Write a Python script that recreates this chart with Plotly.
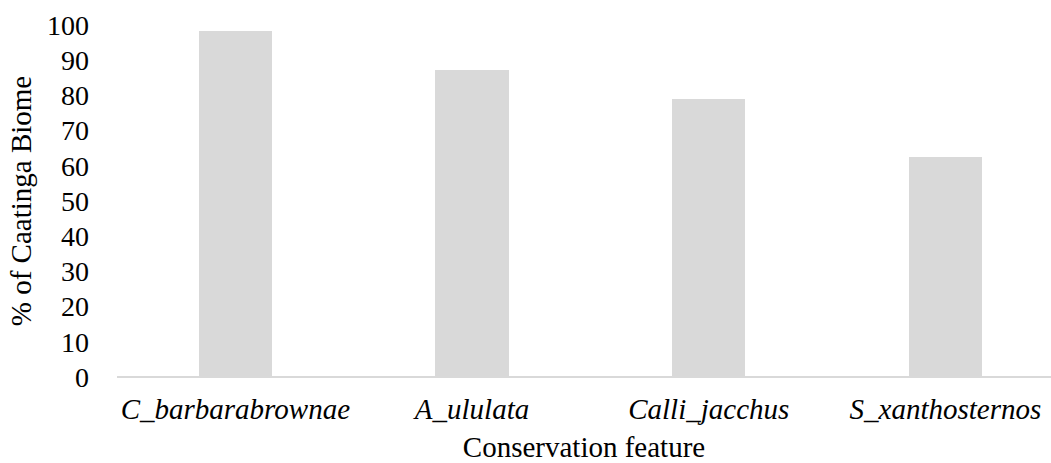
import plotly.graph_objects as go

categories = ["C_barbarabrownae", "A_ululata", "Calli_jacchus", "S_xanthosternos"]
values = [98.3, 87.2, 79.0, 62.4]
y_ticks = list(range(0, 101, 10))

FF = "Liberation Serif"
x_font = dict(family=FF, size=29, color="#000000")
y_font = dict(family=FF, size=28, color="#000000")

fig = go.Figure()
fig.add_trace(go.Bar(
    x=list(range(len(categories))),
    y=values,
    width=0.31,
    marker=dict(color="#d9d9d9", line=dict(width=0)),
))

fig.update_layout(
    width=1051, height=463,
    margin=dict(l=117, r=0, t=25, b=86, autoexpand=False),
    plot_bgcolor="white", paper_bgcolor="white",
    font=dict(family=FF, size=29, color="#000000"),
    showlegend=False,
    bargap=0,
)
fig.update_xaxes(
    range=[-0.5, 3.446],
    tickmode="array",
    tickvals=list(range(len(categories))),
    ticktext=[f"<i>{c}</i>" for c in categories],
    tickfont=x_font,
    showgrid=False, zeroline=False,
    showline=False,
    ticks="",
    ticklabelstandoff=12,
    automargin=False,
    title=dict(text="Conservation feature", standoff=15, font=x_font),
)
fig.update_yaxes(
    range=[0, 100],
    tickmode="array",
    tickvals=y_ticks,
    tickfont=y_font,
    showgrid=False, zeroline=True, zerolinecolor="#d9d9d9", zerolinewidth=2,
    showline=False,
    ticks="",
    ticklabelstandoff=27,
    automargin=False,
    title=dict(text="% of Caatinga Biome", standoff=6, font=x_font),
)

fig.write_html(
    "out.html",
    config={"displayModeBar": False},
    post_script="document.body.style.margin='0';document.body.style.overflow='hidden';",
)
